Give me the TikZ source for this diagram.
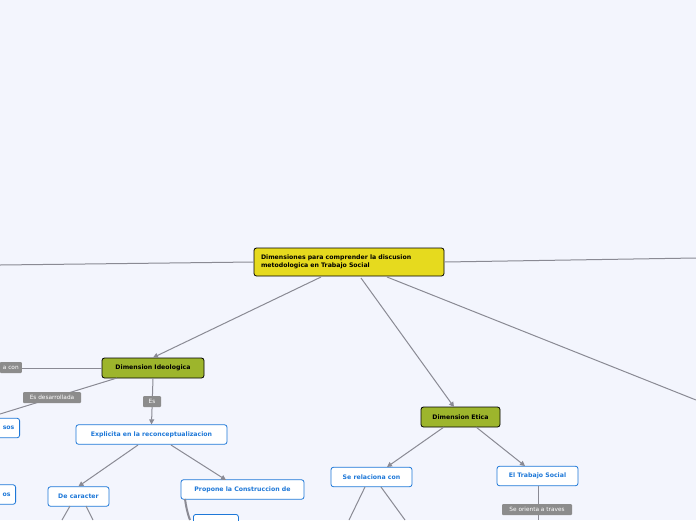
\documentclass[tikz,border=0pt]{standalone}
\usepackage{fontspec}
\setmainfont{DejaVu Sans}
\usetikzlibrary{arrows.meta}
\definecolor{bg}{HTML}{F3F5FD}
\definecolor{rootc}{HTML}{E6DA1E}
\definecolor{olive}{HTML}{9DB52C}
\definecolor{bluet}{HTML}{1E78D8}
\definecolor{lab}{HTML}{8C8C8C}
\definecolor{lin}{HTML}{8A8A94}
\tikzset{
 base/.style={rounded corners=2.5pt, inner sep=0pt, font=\fontsize{6.2}{7.5}\selectfont\bfseries},
 rootbox/.style={base, draw=black, fill=rootc, line width=0.8pt, text width=176pt, align=left, minimum height=28pt, minimum width=190pt},
 dimbox/.style={base, draw=black, fill=olive, line width=0.8pt, minimum height=20pt},
 subbox/.style={base, draw=bluet, fill=white, text=bluet, line width=0.8pt, minimum height=19.5pt},
 lbl/.style={fill=lab, text=white, rounded corners=1pt, inner sep=0pt, minimum height=11pt, font=\fontsize{5.8}{6}\selectfont},
 conn/.style={draw=lin, line width=1pt},
 arr/.style={conn, -{Triangle[width=5pt,length=5pt]}},
}
\begin{document}
\begin{tikzpicture}[x=1pt,y=-1pt]
\fill[bg] (0,0) rectangle (696,520);
\useasboundingbox (0,0) rectangle (696,520);
\begin{scope}
\clip (0,0) rectangle (696,520);
\node[rootbox] (root) at (349,262) {Dimensiones para comprender la discusion\\metodologica en Trabajo Social};
\node[dimbox, minimum width=102pt] (ideo) at (153,368) {Dimension Ideologica};
\node[dimbox, minimum width=79pt] (etica) at (460.5,417) {Dimension Etica};
\node[subbox, minimum width=151pt] (expl) at (151.5,434.5) {Explicita en la reconceptualizacion};
\node[subbox, minimum width=61pt] (carac) at (78.5,496.5) {De caracter};
\node[subbox, minimum width=123pt] (prop) at (242.5,489.5) {Propone la Construccion de};
\node[subbox, minimum width=81pt] (serel) at (371.5,477) {Se relaciona con};
\node[subbox, minimum width=81pt] (ts) at (537.5,476) {El Trabajo Social};
\node[subbox, minimum width=36pt, anchor=east] (sos) at (20,428) {\hspace*{14pt}sos};
\node[subbox, minimum width=32pt, anchor=east] (os) at (16,494.5) {\hspace*{14pt}os};
\node[subbox, minimum width=45pt, minimum height=16pt, anchor=north west] (prbox) at (193,514) {};
\coordinate (lft) at (0,265);
\coordinate (rgt) at (696,258);
\coordinate (rgt2) at (696,400);
\coordinate (lcon) at (0,368);
\coordinate (ldes) at (0,414);
\draw[conn] (root.west) -- (lft);
\draw[conn] (root.east) -- (rgt);
\draw[arr] (321,277) -- (ideo.north);
\draw[arr] (361,278) -- (454,407);
\draw[conn] (387,277) -- (rgt2);
\draw[conn] (ideo.west) -- (lcon);
\node[lbl, minimum width=22pt, anchor=east] at (22,367.5) {a con};
\draw[conn] (117,378) -- (ldes);
\node[lbl, minimum width=58pt] at (52,397.5) {Es desarrollada};
\draw[arr] (ideo.south) -- (expl.north);
\node[lbl, minimum width=18pt] at (152,401.5) {Es};
\draw[arr] (138,445) -- (carac.north);
\draw[arr] (171,445) -- (226,480);
\draw[arr] (444,427) -- (387,467);
\draw[arr] (476,427) -- (525,466);
\draw[conn] (365,487) -- (349,520);
\draw[conn] (381,487) -- (405,520);
\draw[conn] (70,506) -- (62,520);
\draw[conn] (86,506) -- (93,520);
\draw[conn] (538,486) -- (538,520);
\node[lbl, minimum width=70pt] at (537,509.5) {Se orienta a traves};
\draw[draw=lin, line width=2pt] (185,499) .. controls (186,506) and (187,512) .. (190,520);
\end{scope}
\end{tikzpicture}
\end{document}
